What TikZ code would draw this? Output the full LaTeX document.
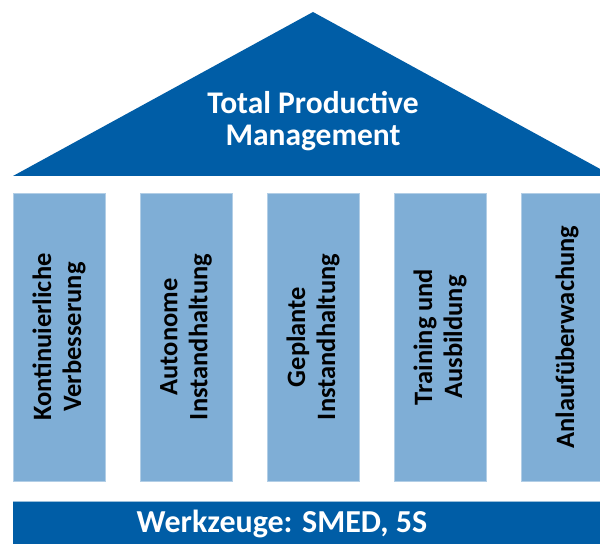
\documentclass[tikz,border=0pt]{standalone}
\usepackage{fontspec}
\setmainfont{Carlito}
\usetikzlibrary{positioning}
\definecolor{tpmdark}{RGB}{0,93,166}
\definecolor{tpmlight}{RGB}{127,174,214}
\tikzset{
rooftext/.style={text=white,font=\bfseries\fontsize{31.5}{32}\selectfont,align=center},
pillar/.style={fill=tpmlight,draw=tpmlight!60!white,line width=0.6pt,minimum width=288pt,minimum height=92pt,inner sep=0pt,align=center,font=\bfseries\fontsize{26.5}{30}\selectfont},
basetext/.style={text=white,font=\bfseries\fontsize{32}{32}\selectfont}
}
\begin{document}
\begin{tikzpicture}[x=1pt,y=1pt]
\clip(0,0)rectangle(600,544);
\fill[white](0,0)rectangle(600,544);
% Dach
\fill[tpmdark](13,368)--(613,368)--(313,532)--cycle;
\node[rooftext](title)at(313,423){Total Productive\\Management};
% Saeulen
\foreach \x/\n/\t in{59/kv/Kontinuierliche\\Verbesserung,186/ai/Autonome\\Instandhaltung,313/gi/Geplante\\Instandhaltung,440/ta/Training und\\Ausbildung,567/au/Anlaufüberwachung}
{\node[pillar,rotate=90](\n)at(\x,207){\t};}
% Fundament
\fill[tpmdark](13,0)rectangle(613,43);
\draw[tpmdark!40!white,line width=0.6pt](13,43)--(613,43);
\node[basetext](tools)at(282,20){Werkzeuge: SMED, 5S};
\end{tikzpicture}
\end{document}
